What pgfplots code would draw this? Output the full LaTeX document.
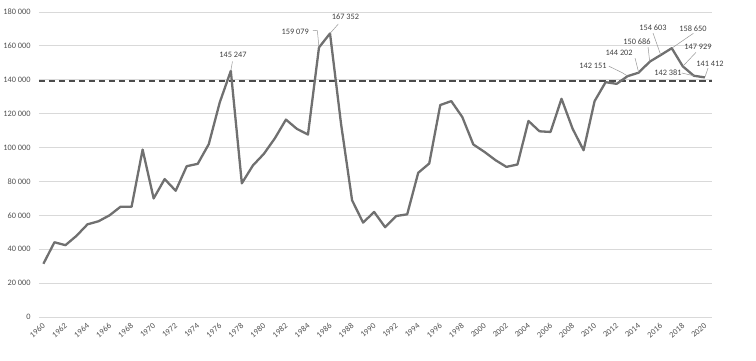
\documentclass[border=0pt]{standalone}
\usepackage{pgfplots}
\pgfplotsset{compat=1.18}
\usepackage{fontspec}
\setmainfont{Carlito}
\definecolor{linegray}{RGB}{112,112,112}
\definecolor{dashgray}{RGB}{75,75,75}
\definecolor{gridgray}{RGB}{217,217,217}
\definecolor{txtgray}{RGB}{80,80,80}
\definecolor{lblgray}{RGB}{64,64,64}
\definecolor{leadgray}{RGB}{150,150,150}
\pgfplotstableread{
year value
1960 31400
1961 44100
1962 42400
1963 47900
1964 54700
1965 56500
1966 60000
1967 65100
1968 65100
1969 98800
1970 70000
1971 81400
1972 74500
1973 89000
1974 90400
1975 102000
1976 126700
1977 145247
1978 78900
1979 89400
1980 96300
1981 105500
1982 116500
1983 111000
1984 107700
1985 159079
1986 167352
1987 114000
1988 68900
1989 55700
1990 62000
1991 53000
1992 59600
1993 60600
1994 85100
1995 90600
1996 125100
1997 127400
1998 118000
1999 101800
2000 97500
2001 92600
2002 88600
2003 90000
2004 115700
2005 109600
2006 109200
2007 128800
2008 111200
2009 98400
2010 127400
2011 138600
2012 137600
2013 142151
2014 144202
2015 150686
2016 154603
2017 158650
2018 147929
2019 142381
2020 141412
}\datatable
\begin{document}
\begin{tikzpicture}
\begin{axis}[
  scale only axis,
  width=673pt, height=305pt,
  xmin=1959.6, xmax=2020.65,
  ymin=0, ymax=180000,
  axis line style={draw=none},
  major tick length=0pt,
  xtick={1960,1962,...,2020},
  ytick={0,20000,...,180000},
  ymajorgrids,
  grid style={gridgray, line width=0.8pt},
  /pgf/number format/assume math mode=true,
  scaled y ticks=false,
  yticklabel={\pgfmathprintnumber[fixed,1000 sep={\ }]{\tick}},
  xticklabel={\pgfmathprintnumber[fixed,1000 sep={}]{\tick}},
  tick label style={font=\fontsize{8.3}{10}\selectfont, text=txtgray},
  yticklabel style={xshift=-5pt},
  xticklabel style={xshift=-6pt, yshift=-13.5pt, rotate=40, anchor=center, inner sep=0pt},
  clip=false,
]
\addplot[dashgray, line width=2pt, dash pattern=on 6.5pt off 3.5pt, forget plot] coordinates {(1959.6,139000) (2020.65,139000)};
\addplot[linegray, line width=2.3pt, line join=round] table[x=year,y=value]{\datatable};
\begin{scope}[every node/.style={font=\fontsize{8.3}{10}\selectfont, text=lblgray, inner sep=0pt}]
\node at (axis cs:1977.2,154600) {145\ 247};
\draw[leadgray, line width=0.5pt] (axis cs:1977.15,150800) -- (axis cs:1977,145247);
\node at (axis cs:1982.85,168500) {159\ 079};
\draw[leadgray, line width=0.5pt] (axis cs:1984.45,169200) -- (axis cs:1984.85,169000) -- (axis cs:1985,159079);
\node at (axis cs:1987.4,177200) {167\ 352};
\draw[leadgray, line width=0.5pt] (axis cs:1986.75,172900) -- (axis cs:1986,167352);
\node at (axis cs:2009.86,148100) {142\ 151};
\draw[leadgray, line width=0.5pt] (axis cs:2011.3,148000) -- (axis cs:2012.5,144200) -- (axis cs:2013,142151);
\node at (axis cs:2012.22,155750) {144\ 202};
\draw[leadgray, line width=0.5pt] (axis cs:2013.67,152800) -- (axis cs:2014,144202);
\node at (axis cs:2013.85,162240) {150\ 686};
\draw[leadgray, line width=0.5pt] (axis cs:2014.85,159300) -- (axis cs:2015,150686);
\node at (axis cs:2015.3,170500) {154\ 603};
\draw[leadgray, line width=0.5pt] (axis cs:2015.3,167550) -- (axis cs:2016,154603);
\node at (axis cs:2018.93,169900) {158\ 650};
\draw[leadgray, line width=0.5pt] (axis cs:2018.96,167400) -- (axis cs:2017,158650);
\node at (axis cs:2019.38,159300) {147\ 929};
\draw[leadgray, line width=0.5pt] (axis cs:2019.2,156200) -- (axis cs:2018,147929);
\node at (axis cs:2016.66,144000) {142\ 381};
\draw[leadgray, line width=0.5pt] (axis cs:2017.9,144000) -- (axis cs:2019,142381);
\node at (axis cs:2020.47,149300) {141\ 412};
\draw[leadgray, line width=0.5pt] (axis cs:2020.29,146900) -- (axis cs:2020,141412);
\end{scope}
\end{axis}
\pgfresetboundingbox
\path (current axis.south west) ++(-39pt,-43pt) rectangle ++(756pt,360pt);
\end{tikzpicture}
\end{document}
